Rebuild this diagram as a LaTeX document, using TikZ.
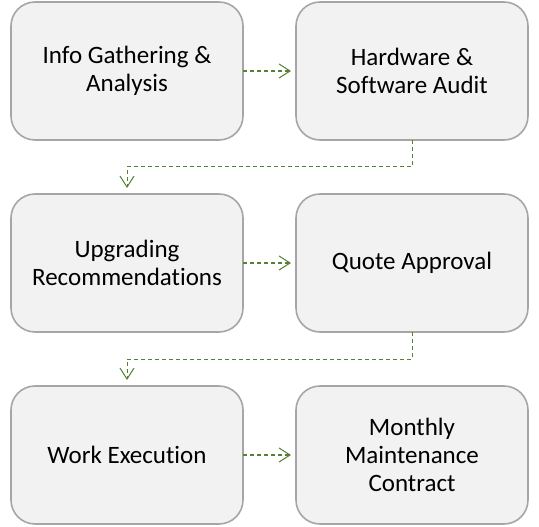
\documentclass[tikz,border=0pt]{standalone}
\usepackage{fontspec}
\setmainfont{Carlito}[Ligatures=NoCommon]
\usetikzlibrary{arrows.meta,positioning}
\definecolor{boxfill}{HTML}{F2F2F2}
\definecolor{boxline}{HTML}{A6A6A6}
\definecolor{linkgreen}{HTML}{548235}
\tikzset{
  stagebox/.style={
    draw=boxline,
    fill=boxfill,
    line width=1.6pt,
    rounded corners=24pt,
    align=center,
    font=\fontsize{25}{28}\selectfont,
    minimum width=232pt,
    minimum height=138pt,
    inner sep=0pt,
    outer sep=0pt
  },
  flowarrow/.style={
    draw=linkgreen,
    line width=1.8pt,
    dash pattern=on 4pt off 3pt,
    shorten >=5pt,
    -{Straight Barb[length=11pt,width=14pt,line width=1pt]}
  },
  elbowarrow/.style={
    draw=linkgreen,
    line width=1pt,
    dash pattern=on 4pt off 3pt,
    shorten >=6pt,
    -{Straight Barb[length=11pt,width=14pt,line width=1pt]}
  }
}
\begin{document}
\begin{tikzpicture}[x=1pt,y=-1pt,node distance=54pt and 53pt]
  \useasboundingbox (0,0) rectangle (539,527);
  \node[stagebox] (info) at (127,71) {Info Gathering \&\\Analysis};
  \node[stagebox,right=of info] (audit) {Hardware \&\\Software Audit};
  \node[stagebox,below=of info] (upgrade) {Upgrading\\Recommendations};
  \node[stagebox,right=of upgrade] (quote) {Quote Approval};
  \node[stagebox,below=of upgrade] (work) {Work Execution};
  \node[stagebox,right=of work] (contract) {Monthly\\Maintenance\\Contract};
  % links
  \draw[flowarrow] (info) -- (audit);
  \draw[elbowarrow] (audit.south) -- ++(0,27) -| (upgrade.north);
  \draw[flowarrow] (upgrade) -- (quote);
  \draw[elbowarrow] (quote.south) -- ++(0,27) -| (work.north);
  \draw[flowarrow] (work) -- (contract);
\end{tikzpicture}
\end{document}
